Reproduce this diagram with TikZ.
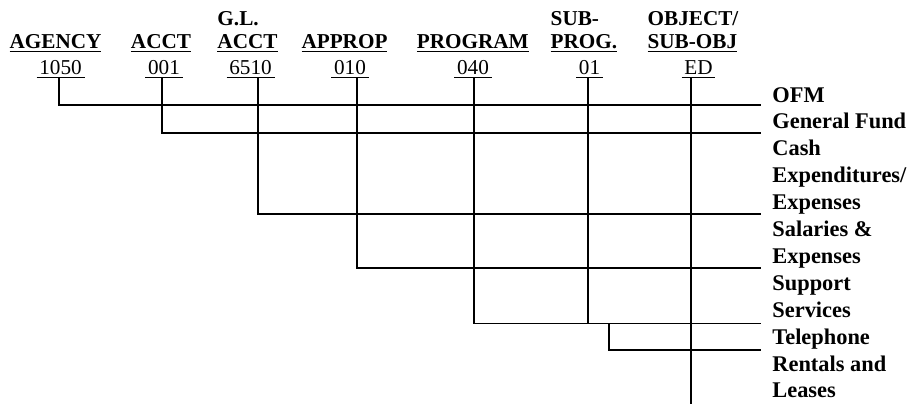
\documentclass[tikz,border=0pt]{standalone}
\usepackage{fontspec}
\setmainfont{Liberation Serif}
\usetikzlibrary{calc}
\newcommand\myul[1]{\setbox0\hbox{#1}\rlap{\rule[-2.05pt]{\wd0}{0.7pt}}\box0}
\begin{document}
\begin{tikzpicture}[x=0.5pt,y=-0.5pt,
  hdr/.style={anchor=base,inner sep=0pt,font=\fontsize{10.6}{11.65}\selectfont\bfseries},
  val/.style={anchor=base,inner ysep=0pt,inner xsep=1.2pt,font=\fontsize{10.6}{12}\selectfont},
  lbl/.style={anchor=base west,inner sep=0pt,font=\fontsize{11.2}{13.45}\selectfont\bfseries},
  conn/.style={line width=0.85pt},
  uline/.style={line width=0.7pt}]
\useasboundingbox (0,0) rectangle (911,404);

% headers
\node[hdr] (hAgency) at (55.5,48.3) {\begin{tabular}[b]{@{}l@{}}\myul{AGENCY}\end{tabular}};
\node[hdr] (hAcct) at (161,48.3) {\begin{tabular}[b]{@{}l@{}}\myul{ACCT}\end{tabular}};
\node[hdr] (hGL) at (247.5,48.3) {\begin{tabular}[b]{@{}l@{}}G.L.\\\myul{ACCT}\end{tabular}};
\node[hdr] (hApprop) at (344.5,48.3) {\begin{tabular}[b]{@{}l@{}}\myul{APPROP}\end{tabular}};
\node[hdr] (hProg) at (472.8,48.3) {\begin{tabular}[b]{@{}l@{}}\myul{PROGRAM}\end{tabular}};
\node[hdr] (hSub) at (584,48.3) {\begin{tabular}[b]{@{}l@{}}SUB-\\\myul{PROG.}\end{tabular}};
\node[hdr] (hObj) at (693,48.3) {\begin{tabular}[b]{@{}l@{}}OBJECT/\\\myul{SUB-OBJ}\end{tabular}};

% values
\node[val] (v1050) at (60.5,74) {1050};
\node[val] (v001) at (164,74) {001};
\node[val] (v6510) at (250.5,74) {6510};
\node[val] (v010) at (350,74) {010};
\node[val] (v040) at (473,74) {040};
\node[val] (v01) at (589.5,74) {01};
\node[val] (vED) at (698.5,74) {ED};
\foreach \n in {v1050,v001,v6510,v010,v040,v01,vED}
  \draw[uline] ($(\n.base west)+(0,3.4)$) -- ($(\n.base east)+(0,3.4)$);

% labels
\node[lbl] (lOFM) at (772,102) {OFM};
\node[lbl] (lGF) at (772,128.9) {General Fund};
\node[lbl] (lCash) at (772,155.8) {\begin{tabular}[t]{@{}l@{}}Cash\\Expenditures/\\Expenses\end{tabular}};
\node[lbl] (lSal) at (772,236.5) {\begin{tabular}[t]{@{}l@{}}Salaries \&\\Expenses\end{tabular}};
\node[lbl] (lSup) at (772,290.3) {\begin{tabular}[t]{@{}l@{}}Support\\Services\end{tabular}};
\node[lbl] (lTel) at (772,344.1) {Telephone};
\node[lbl] (lRent) at (772,371) {\begin{tabular}[t]{@{}l@{}}Rentals and\\Leases\end{tabular}};

% line ends
\coordinate (eOFM) at (761,105);
\coordinate (eGF) at (761,133);
\coordinate (eCash) at (761,214);
\coordinate (eSal) at (761,268);
\coordinate (eSup) at (761,323.5);
\coordinate (eTel) at (761,350);
\coordinate (telTop) at (609,323.5);
\coordinate (bottom) at (0,404);

% connectors
\draw[conn] ($(v1050.base)+(-1.5,3.4)$) |- (eOFM);
\draw[conn] ($(v001.base)+(-2,3.4)$) |- (eGF);
\draw[conn] ($(v6510.base)+(7.5,3.4)$) |- (eCash);
\draw[conn] ($(v010.base)+(7,3.4)$) |- (eSal);
\draw[conn] ($(v040.base)+(1,3.4)$) |- (eSup);
\draw[conn] ($(v01.base)+(-1.5,3.4)$) |- (eSup);
\draw[conn] (telTop) |- (eTel);
\draw[conn] ($(vED.base)+(-7.5,3.4)$) coordinate (edTop) -- (edTop |- bottom);
\end{tikzpicture}
\end{document}
